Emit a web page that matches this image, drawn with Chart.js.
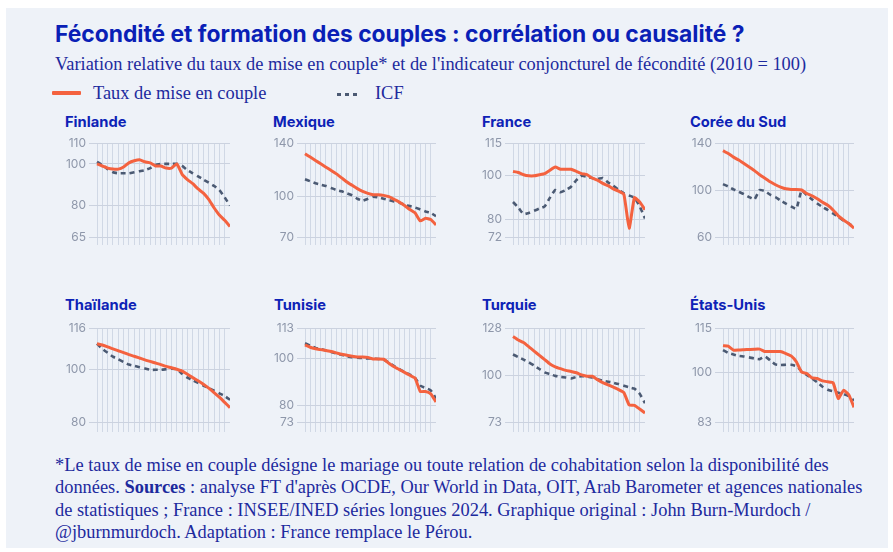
<!DOCTYPE html>
<html lang="fr">
<head>
<meta charset="utf-8">
<script src="https://cdn.jsdelivr.net/npm/chart.js@4.4.1/dist/chart.umd.min.js"></script>
<style>
    html, body { margin: 0; padding: 0; background: #ffffff; }
    #frame { position: relative; width: 893px; height: 552px; overflow: hidden; }
    #card { position: absolute; left: 6px; top: 8px; width: 882px; height: 540px; background: #eef2f8; }
    h1 { position: absolute; left: 55px; top: 20px; margin: 0; font: 700 22.8px Inter, sans-serif; color: #0a1fb6; white-space: nowrap; }
    .serif { font-family: "Liberation Serif", "DejaVu Serif", serif; font-size: 18.4px; color: #1d2a9e; white-space: nowrap; }
    #sub { position: absolute; left: 55px; top: 54px; }
    #legend { position: absolute; left: 52px; top: 83px; height: 22px; width: 400px; }
    #legend .swatch-red { position: absolute; left: 0; top: 8px; width: 29px; height: 4px; background: #f4623f; border-radius: 1px; }
    #legend .lab1 { position: absolute; left: 41px; top: 0; }
    #legend .swatch-icf { position: absolute; left: 285px; top: 10px; width: 22px; height: 3px; background: repeating-linear-gradient(90deg, #4b5a73 0 4px, transparent 4px 8px); }
    #legend .lab2 { position: absolute; left: 323px; top: 0; }
    .name { position: absolute; font: 700 14.7px Inter, sans-serif; color: #0d22b6; white-space: nowrap; }
    .panel { position: absolute; }
    #note { position: absolute; left: 55px; top: 454px; line-height: 22.3px; }
</style>
</head>
<body>
<div id="frame">
    <div id="card"></div>
    <h1>Fécondité et formation des couples : corrélation ou causalité ?</h1>
    <div id="sub" class="serif">Variation relative du taux de mise en couple* et de l'indicateur conjoncturel de fécondité (2010 = 100)</div>
    <div id="legend" class="serif">
        <div class="swatch-red"></div><span class="lab1">Taux de mise en couple</span>
        <div class="swatch-icf"></div><span class="lab2">ICF</span>
    </div>

    <div class="name" style="left:65px; top:113px;">Finlande</div>
    <div class="name" style="left:273px; top:113px;">Mexique</div>
    <div class="name" style="left:482px; top:113px;">France</div>
    <div class="name" style="left:690px; top:113px;">Corée du Sud</div>
    <div class="name" style="left:65px; top:296px;">Thaïlande</div>
    <div class="name" style="left:274px; top:296px;">Tunisie</div>
    <div class="name" style="left:482px; top:296px;">Turquie</div>
    <div class="name" style="left:690px; top:296px;">États-Unis</div>

    <div class="panel" style="left:50px; top:135px;"><canvas id="finlande" width="180" height="110"></canvas></div>
    <div class="panel" style="left:258px; top:135px;"><canvas id="mexique" width="178" height="110"></canvas></div>
    <div class="panel" style="left:466px; top:135px;"><canvas id="france" width="179" height="110"></canvas></div>
    <div class="panel" style="left:676px; top:135px;"><canvas id="coree" width="178" height="110"></canvas></div>
    <div class="panel" style="left:50px; top:320px;"><canvas id="thailande" width="180" height="112"></canvas></div>
    <div class="panel" style="left:258px; top:320px;"><canvas id="tunisie" width="178" height="112"></canvas></div>
    <div class="panel" style="left:466px; top:320px;"><canvas id="turquie" width="179" height="112"></canvas></div>
    <div class="panel" style="left:676px; top:320px;"><canvas id="etatsunis" width="178" height="112"></canvas></div>

    <div id="note" class="serif">*Le taux de mise en couple désigne le mariage ou toute relation de cohabitation selon la disponibilité des<br>données. <b>Sources</b> : analyse FT d'après OCDE, Our World in Data, OIT, Arab Barometer et agences nationales<br>de statistiques ; France : INSEE/INED séries longues 2024. Graphique original : John Burn-Murdoch /<br>@jburnmurdoch. Adaptation : France remplace le Pérou.</div>
</div>

<script>
const years = [1998, 1999, 2000, 2001, 2002, 2003, 2004, 2005, 2006, 2007, 2008, 2009, 2010,
               2011, 2012, 2013, 2014, 2015, 2016, 2017, 2018, 2019, 2020, 2021, 2022, 2023];

// Finlande
const finlandeCouple = [100, 99, 98, 97.5, 97.5, 98.5, 100.5, 101.5, 102, 101, 100.5, 99, 99,
                        98, 98, 100, 95, 92.5, 90.5, 88, 86, 83, 79, 75.5, 73, 70];
const finlandeIcf    = [101, 99.5, 97.5, 96, 95.5, 95.5, 95.5, 96, 96.5, 97, 98, 99.5, 100,
                        100, 100, 100, 99, 97, 95.5, 94, 92.5, 91, 89.5, 87.5, 84, 80];
const finlandeTicks  = [110, 100, 80, 65];

// Mexique
const mexiqueCouple = [132, 129.5, 127, 124.5, 122, 119.5, 117, 114, 111, 108.5, 106, 104, 102.5,
                       101.5, 101.5, 101, 100, 98, 96, 93.5, 90.5, 88, 82, 84, 83, 79];
const mexiqueIcf    = [113, 111.5, 110, 109, 108, 106.5, 105, 104, 102.5, 101, 98.5, 97, 98.5,
                       100, 99.5, 98.5, 97.5, 96.5, 95.5, 94, 93, 92, 90.5, 89, 88, 85.5];
const mexiqueTicks  = [140, 100, 70];

// France
const franceCouple = [102, 101.5, 100.5, 100, 100, 100.5, 101, 102.5, 104, 103, 103, 103, 102,
                      101, 100.5, 99, 98, 96.5, 95.5, 94, 93, 91.5, 76, 90, 88, 84.5];
const franceIcf    = [88, 85.5, 82.5, 83, 84, 85, 86, 90, 93.5, 92.5, 93.5, 95, 98,
                      100, 99.5, 99, 98.5, 99, 97, 95.5, 93.5, 92, 91, 90, 86, 80.5];
const franceTicks  = [115, 100, 80, 72];

// Corée du Sud
const coreeCouple = [133.5, 131, 128, 125.5, 122.5, 119.5, 116.5, 113, 110, 107, 104.5, 102.5, 101,
                     100.5, 100.5, 100, 97, 95, 92.5, 89.5, 87, 83, 78, 74.5, 71.5, 67.5];
const coreeIcf    = [105, 103, 100.5, 98.5, 96.5, 94, 92, 100, 99, 96, 94, 91, 88.5,
                     86, 84, 99.5, 95.5, 92, 88.5, 85.5, 83, 80, 77, 74, 71.5, 68.5];
const coreeTicks  = [140, 100, 60];

// Thaïlande
const thailandeCouple = [110, 109.5, 108.8, 108, 107.3, 106.6, 105.8, 105.2, 104.5, 103.8, 103.2, 102.6, 102,
                         101.3, 100.8, 100.2, 99.5, 98.3, 97, 95.8, 94.5, 93, 91.3, 89.5, 87.5, 85.5];
const thailandeIcf    = [110, 108, 106.5, 105, 104, 103, 102, 101.5, 101, 100.5, 100, 100, 100,
                         100.2, 100.4, 100.2, 98.5, 97, 96, 95, 94, 93, 92, 91, 90, 88.5];
const thailandeTicks  = [116, 100, 80];

// Tunisie
const tunisieCouple = [105.8, 104.8, 104.2, 103.8, 103.4, 103, 102.4, 101.8, 101.4, 101, 100.7, 100.7, 100.5,
                       99.8, 99.8, 99.7, 98, 96.5, 95.3, 94.1, 92.9, 91.7, 86, 86, 85, 81.5];
const tunisieIcf    = [106.5, 105.5, 104.5, 104, 103.4, 102.8, 102.2, 101.6, 101, 100.6, 100.4, 100.2, 100,
                       100, 99.8, 99.6, 98.2, 96.8, 95.5, 94.3, 93.2, 91.8, 88.5, 87.5, 86.5, 83];
const tunisieTicks  = [113, 100, 80, 73];

// Turquie
const turquieCouple = [123, 121, 119.5, 117, 114.5, 112, 109.5, 107, 105.3, 104.2, 103.2, 102.6, 101.8,
                       100.6, 99.8, 99.8, 97.8, 96, 94.8, 93.4, 92, 90.2, 83, 82.8, 80.6, 78.3];
const turquieIcf    = [112.5, 111, 109.5, 108, 106, 104, 102, 101, 100, 99.4, 99, 98.5, 99.4,
                       99.8, 99.6, 99, 98, 97.2, 96.6, 96, 95.2, 94.2, 93.3, 92.5, 89.5, 84];
const turquieTicks  = [128, 100, 73];

// États-Unis
const etatsunisCouple = [109, 108.8, 107.5, 107.5, 107.6, 107.7, 107.8, 107.8, 107, 107, 107, 107, 106.3,
                         105.5, 103.5, 100, 99.5, 98, 97.8, 97, 96.7, 96.4, 91, 93.8, 92.3, 88];
const etatsunisIcf    = [107.5, 106.5, 106, 105.5, 105.3, 105, 104.6, 104.4, 105.3, 104, 102.6, 102.4, 102.5,
                         102.5, 102, 100.3, 99, 97.8, 96.5, 95, 94, 93.5, 93, 92.5, 91.8, 90.3];
const etatsunisTicks  = [115, 100, 83];

const RED = '#f4623f';
const SLATE = '#4b5a73';

class CountryPanel
{
    constructor(id, couple, icf, ticks, bottomPad)
    {
        this.ticks = ticks;
        this.max = ticks[0];
        let lowest = ticks[ticks.length - 1];
        this.min = lowest - (this.max - lowest) * bottomPad;
        this.initChart(id, couple, icf);
    }

    initChart(id, couple, icf)
    {
        let ticks = this.ticks;
        let ctx = document.getElementById(id).getContext('2d');
        this.chart = new Chart(ctx, {
            type: 'line',
            data: {
                labels: years,
                datasets: [
                    {
                        label: 'Taux de mise en couple',
                        data: couple,
                        borderColor: RED,
                        borderWidth: 3,
                        pointRadius: 0,
                        tension: 0.15
                    },
                    {
                        label: 'ICF',
                        data: icf,
                        borderColor: SLATE,
                        borderWidth: 2.6,
                        borderDash: [5, 4],
                        pointRadius: 0,
                        tension: 0.15
                    }
                ]
            },
            options: {
                responsive: false,
                animation: false,
                devicePixelRatio: 1,
                layout: { padding: { top: 8, right: 0, bottom: 0, left: 0 } },
                plugins: { legend: { display: false }, tooltip: { enabled: false } },
                scales: {
                    x: {
                        ticks: { display: false },
                        grid: { color: 'rgba(184, 194, 214, 0.55)', drawTicks: false },
                        border: { display: false },
                        afterFit: (axis) => { axis.height = 0; }
                    },
                    y: {
                        min: this.min,
                        max: this.max,
                        afterBuildTicks: (axis) => { axis.ticks = ticks.map(v => ({ value: v })); },
                        afterFit: (axis) =>
                        {
                            axis.width = 47;
                            axis.paddingTop = 0;
                            axis.paddingBottom = 0;
                        },
                        ticks: { color: '#8e97aa', font: { family: 'Inter', size: 12 }, padding: 3 },
                        grid: { color: '#cbd2df', tickLength: 8 },
                        border: { display: false }
                    }
                }
            }
        });
    }
}

new CountryPanel('finlande', finlandeCouple, finlandeIcf, finlandeTicks, 0.085);
new CountryPanel('mexique', mexiqueCouple, mexiqueIcf, mexiqueTicks, 0.085);
new CountryPanel('france', franceCouple, franceIcf, franceTicks, 0.085);
new CountryPanel('coree', coreeCouple, coreeIcf, coreeTicks, 0.085);
new CountryPanel('thailande', thailandeCouple, thailandeIcf, thailandeTicks, 0.106);
new CountryPanel('tunisie', tunisieCouple, tunisieIcf, tunisieTicks, 0.106);
new CountryPanel('turquie', turquieCouple, turquieIcf, turquieTicks, 0.106);
new CountryPanel('etatsunis', etatsunisCouple, etatsunisIcf, etatsunisTicks, 0.106);
</script>
</body>
</html>
